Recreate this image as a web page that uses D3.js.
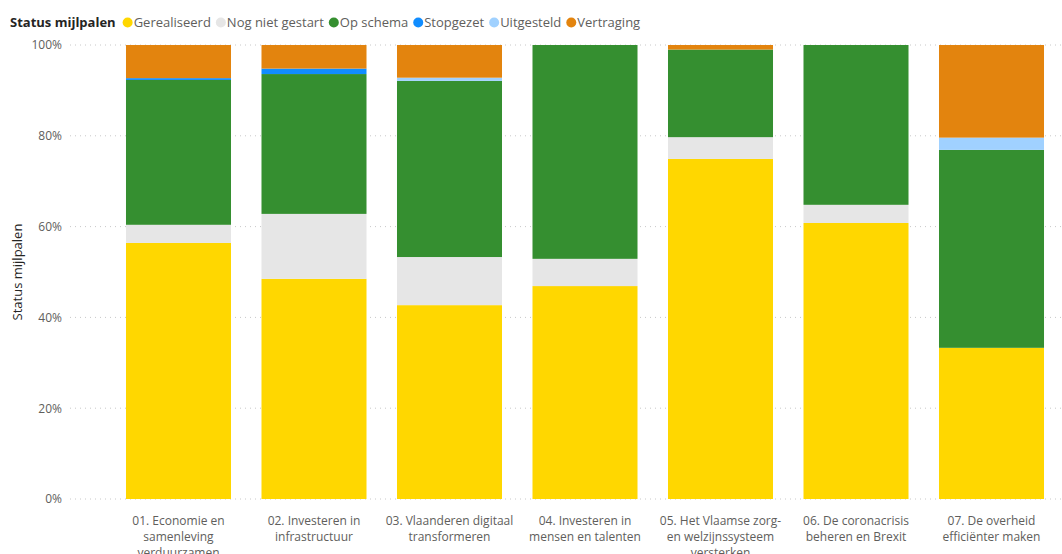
<!DOCTYPE html>
<html><head><meta charset="utf-8">
<script src="https://cdn.jsdelivr.net/npm/d3@7"></script>
<style>body{margin:0;background:#fff;} svg{display:block;font-family:"Open Sans","Noto Sans",sans-serif;}</style>
</head><body><svg id="c" width="1062" height="554"></svg>
<script>
const categories = ["01. Economie en\nsamenleving\nverduurzamen","02. Investeren in\ninfrastructuur","03. Vlaanderen digitaal\ntransformeren","04. Investeren in\nmensen en talenten","05. Het Vlaamse zorg-\nen welzijnssysteem\nversterken","06. De coronacrisis\nbeheren en Brexit","07. De overheid\nefficiënter maken"];
const seriesNames = ["Gerealiseerd","Nog niet gestart","Op schema","Stopgezet","Uitgesteld","Vertraging"];
const seriesColors = ["#FFD700","#E6E6E6","#358F30","#118DFF","#A0D1FF","#E3840E"];
const gerealiseerd = [56.4,48.5,42.7,46.9,74.9,60.8,33.3];
const nogNietGestart = [4.0,14.3,10.6,6.0,4.8,4.0,0];
const opSchema = [31.9,30.8,38.8,47.1,19.3,35.2,43.6];
const stopgezet = [0.4,1.2,0,0,0,0,0];
const uitgesteld = [0,0,0.7,0,0,0,2.7];
const vertraging = [7.3,5.2,7.2,0,1.0,0,20.4];
const yTicks = [0,0.2,0.4,0.6,0.8,1.0];

const seriesValues = [gerealiseerd,nogNietGestart,opSchema,stopgezet,uitgesteld,vertraging];
const rows = categories.map((c,i)=>{const o={cat:c};seriesNames.forEach((s,j)=>o[s]=seriesValues[j][i]);return o;});
const stack = d3.stack().keys(seriesNames).offset(d3.stackOffsetExpand)(rows);

const svg = d3.select("#c");
const x = d3.scaleBand().domain(categories).range([110,1060]).paddingInner(0.225).paddingOuter(0.118);
const y = d3.scaleLinear().domain([0,1]).range([499,45]);
const color = d3.scaleOrdinal().domain(seriesNames).range(seriesColors);

// gridlines
svg.append("g").selectAll("line").data(yTicks).join("line")
  .attr("x1",70).attr("x2",1062).attr("y1",d=>y(d)).attr("y2",d=>y(d))
  .attr("stroke","#C8C8C8").attr("stroke-dasharray","1,4").attr("stroke-width",1);

// y axis labels
const yAxis = d3.axisLeft(y).tickValues(yTicks).tickFormat(d3.format(".0%")).tickSize(0).tickPadding(0);
const ga = svg.append("g").attr("transform","translate(62,0)").call(yAxis);
ga.select(".domain").remove();
ga.selectAll("text").attr("fill","#605E5C").style("font-size","12px").style("font-family","'Open Sans',sans-serif");

// bars
svg.append("g").selectAll("g").data(stack).join("g").attr("fill",d=>color(d.key))
  .selectAll("rect").data(d=>d).join("rect")
  .attr("x",d=>x(d.data.cat)).attr("width",x.bandwidth())
  .attr("y",d=>y(d[1])).attr("height",d=>Math.max(0,y(d[0])-y(d[1])));

// x labels
const gx = svg.append("g");
categories.forEach(c=>{
  const t = gx.append("text").attr("text-anchor","middle").attr("fill","#605E5C").style("font-size","12px");
  c.split("\n").forEach((line,k)=>{
    t.append("tspan").attr("x",x(c)+x.bandwidth()/2).attr("y",525+k*16).text(line);
  });
});

// y title
svg.append("text").attr("transform","translate(22,272) rotate(-90)").attr("text-anchor","middle")
  .attr("fill","#252423").style("font-size","13px").text("Status mijlpalen");

// legend
const lg = svg.append("g");
const title = lg.append("text").attr("x",10).attr("y",27).attr("fill","#252423").style("font-size","13px").style("font-weight","bold").text("Status mijlpalen");
let lx = 10 + title.node().getComputedTextLength() + 12;
seriesNames.forEach((s,i)=>{
  lg.append("circle").attr("cx",lx).attr("cy",22.5).attr("r",5).attr("fill",seriesColors[i]);
  const t = lg.append("text").attr("x",lx+6).attr("y",27).attr("fill","#605E5C").style("font-size","13px").text(s);
  lx += 6 + t.node().getComputedTextLength() + 10;
});
</script></body></html>
